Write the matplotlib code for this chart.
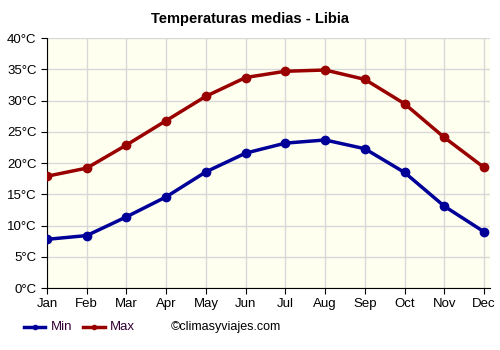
import matplotlib
matplotlib.use("Agg")
import matplotlib.pyplot as plt
from matplotlib.lines import Line2D

plt.rcParams["font.family"] = ["Liberation Sans", "DejaVu Sans"]

months = ["Jan", "Feb", "Mar", "Apr", "May", "Jun", "Jul", "Aug", "Sep", "Oct", "Nov", "Dec"]
temp_min = [7.8, 8.4, 11.4, 14.6, 18.6, 21.6, 23.2, 23.7, 22.3, 18.5, 13.1, 9.0]
temp_max = [17.9, 19.2, 22.9, 26.8, 30.7, 33.7, 34.7, 34.9, 33.4, 29.5, 24.1, 19.3]
yticks = [0, 5, 10, 15, 20, 25, 30, 35, 40]
ytick_labels = [f"{v}°C" for v in yticks]
series_names = ["Min", "Max"]
colors = ["#000099", "#990000"]

W, H = 500, 350
fig = plt.figure(figsize=(5, 3.5), dpi=100)
ax = fig.add_axes([0.094, 0.177, 0.886, 0.714])
ax.set_facecolor("#fffff0")

x = list(range(len(months)))
ax.plot(x, temp_min, color=colors[0], lw=2.5, marker="o", ms=6, zorder=3)
ax.plot(x, temp_max, color=colors[1], lw=2.5, marker="o", ms=6, zorder=3)

ax.set_xlim(0, 11.15)
ax.set_ylim(0, 40)
ax.set_xticks(x)
ax.set_xticklabels(months)
ax.set_yticks(yticks)
ax.set_yticklabels(ytick_labels)
ax.grid(True, color="#d8d8d8", lw=1)
ax.set_axisbelow(True)
for s in ["top", "right"]:
    ax.spines[s].set_visible(False)
ax.spines["left"].set_color("black")
ax.spines["bottom"].set_color("black")
ax.tick_params(axis="both", labelsize=9.5, length=4, direction="out", colors="black")

fig.text(0.5, 0.945, "Temperaturas medias - Libia", ha="center", va="center",
         fontsize=10.5, fontweight="bold")

# manual legend
ly = 1 - 327 / H
for (x0, x1, tx), name, c in zip([(24, 45, 51), (83, 105, 110)], series_names, colors):
    fig.add_artist(Line2D([x0 / W, x1 / W], [ly, ly], color=c, lw=2.5,
                          transform=fig.transFigure))
    fig.add_artist(Line2D([(x0 + x1) / 2 / W], [ly], color=c, marker="o", ms=3,
                          transform=fig.transFigure))
    fig.text(tx / W, ly, name, ha="left", va="center", fontsize=9.5, color="#330033")
fig.text(171 / W, ly, "©climasyviajes.com", ha="left", va="center", fontsize=9)

fig.savefig("out.png", dpi=100)
